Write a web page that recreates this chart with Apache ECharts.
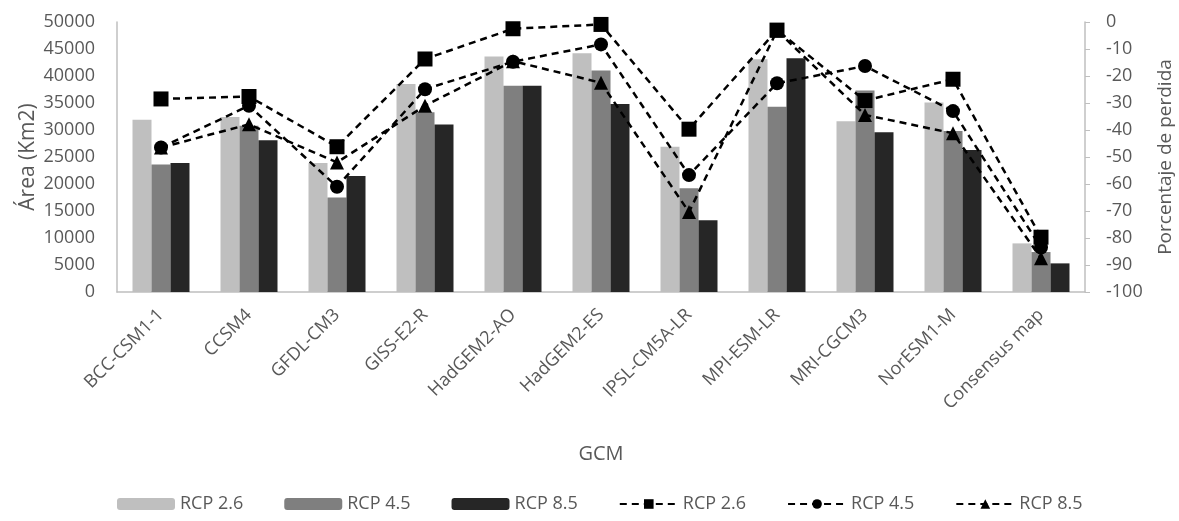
<!DOCTYPE html>
<html><head><meta charset="utf-8">
<script src="https://cdn.jsdelivr.net/npm/echarts@6/dist/echarts.min.js"></script>
<style>html,body{margin:0;padding:0;background:#fff}#c{width:1179px;height:521px}</style>
</head><body><div id="c"></div>
<script>
const categories = ['BCC-CSM1-1','CCSM4','GFDL-CM3','GISS-E2-R','HadGEM2-AO','HadGEM2-ES','IPSL-CM5A-LR','MPI-ESM-LR','MRI-CGCM3','NorESM1-M','Consensus map'];
const area26 = [31900, 32400, 23900, 38500, 43600, 44200, 26900, 43100, 31600, 35100, 9000];
const area45 = [23600, 30800, 17500, 33300, 38200, 41000, 19200, 34300, 37300, 29800, 7400];
const area85 = [23900, 28100, 21500, 31000, 38200, 34800, 13300, 43300, 29600, 26300, 5300];
const loss26 = [-28.5, -27.6, -46.2, -13.7, -2.5, -0.9, -39.7, -3.0, -29.1, -21.2, -79.7];
const loss45 = [-46.5, -31.0, -61.0, -24.9, -14.7, -8.3, -56.7, -22.7, -16.3, -33.0, -83.5];
const loss85 = [-46.5, -37.9, -52.0, -31.0, -14.5, -22.5, -70.4, -3.2, -34.4, -41.2, -87.5];
const leftTicks = {min: 0, max: 50000, interval: 5000};
const rightTicks = {min: -100, max: 0, interval: 10};

const gray = '#595959';
const font = 'Open Sans';
const chart = echarts.init(document.getElementById('c'));
const barSeries = (name, data, color) => ({
  name, type: 'bar', data, yAxisIndex: 0, barWidth: 19, barGap: '0%',
  itemStyle: {color}
});
const lineSeries = (name, data, symbol, size) => ({
  name, type: 'line', data, yAxisIndex: 1, symbol, symbolSize: size,
  itemStyle: {color: '#000'},
  lineStyle: {color: '#000', width: 2.5, type: [7, 5]},
  z: 5
});
chart.setOption({
  animation: false,
  grid: {left: 117, right: 94, top: 22, bottom: 229, containLabel: false, outerBoundsMode: 'none'},
  legend: {
    bottom: 3, left: 112, itemWidth: 58, itemHeight: 12, itemGap: 41,
    textStyle: {color: gray, fontSize: 18, fontFamily: font},
    formatter: n => n.split('|')[0],
    data: ['RCP 2.6|a','RCP 4.5|a','RCP 8.5|a','RCP 2.6|p','RCP 4.5|p','RCP 8.5|p']
  },
  xAxis: {
    type: 'category', data: categories,
    name: 'GCM', nameLocation: 'middle', nameGap: 152, nameMoveOverlap: false,
    nameTextStyle: {color: gray, fontSize: 20, fontFamily: font},
    axisLine: {lineStyle: {color: '#bfbfbf', width: 1.5}},
    axisTick: {show: false},
    axisLabel: {rotate: 45, color: gray, fontSize: 18, fontFamily: font, margin: 20, interval: 0}
  },
  yAxis: [{
    type: 'value', ...leftTicks,
    name: 'Área (Km2)', nameLocation: 'middle', nameGap: 78, nameMoveOverlap: false,
    nameTextStyle: {color: gray, fontSize: 21, fontFamily: font},
    axisLine: {show: true, lineStyle: {color: '#bfbfbf', width: 1.5}},
    axisTick: {show: false},
    splitLine: {show: false},
    axisLabel: {color: gray, fontSize: 18, fontFamily: font, margin: 22, formatter: v => String(v)}
  }, {
    type: 'value', ...rightTicks, position: 'right',
    name: 'Porcentaje de perdida', nameLocation: 'middle', nameGap: 71, nameMoveOverlap: false,
    nameTextStyle: {color: gray, fontSize: 19, fontFamily: font},
    axisLine: {show: true, lineStyle: {color: '#bfbfbf', width: 1.5}},
    axisTick: {show: true, inside: false, length: 5, lineStyle: {color: '#bfbfbf'}},
    splitLine: {show: false},
    axisLabel: {color: gray, fontSize: 18, fontFamily: font, margin: 21}
  }],
  series: [
    barSeries('RCP 2.6|a', area26, '#bfbfbf'),
    barSeries('RCP 4.5|a', area45, '#7f7f7f'),
    barSeries('RCP 8.5|a', area85, '#262626'),
    lineSeries('RCP 2.6|p', loss26, 'rect', 15),
    lineSeries('RCP 4.5|p', loss45, 'circle', 14),
    lineSeries('RCP 8.5|p', loss85, 'triangle', 14)
  ]
});
</script></body></html>
